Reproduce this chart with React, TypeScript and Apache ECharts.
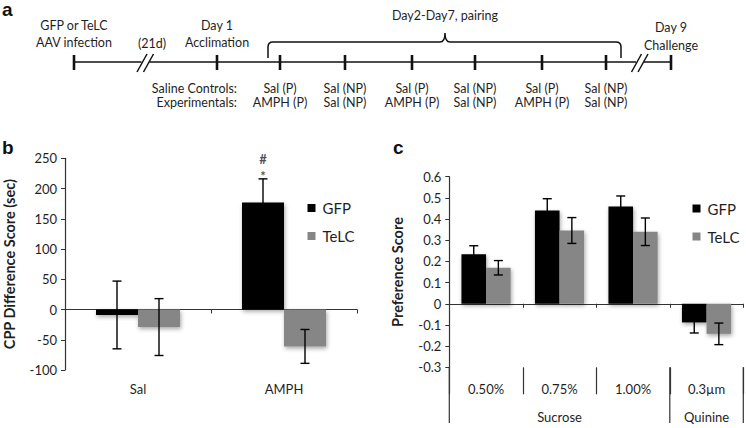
import React, { useEffect, useRef } from 'react';
import * as echarts from 'echarts';

// ---------- data ----------
const seriesNames = ['GFP', 'TeLC'];

// panel b
const cppCategories = ['Sal', 'AMPH'];
const cppGFP = [-9, 177];
const cppGFPErr = [56, 39];
const cppTeLC = [-29, -61];
const cppTeLCErr = [47, 28];
const cppAxis = { min: -100, max: 250, interval: 50 };
const cppAnnotationCategory = 1;
const cppAnnotationMarks = ['*', '#'];

// panel c
const prefCategories = ['0.50%', '0.75%', '1.00%', '0.3µm'];
const prefGroups = ['', 'Sucrose', '', 'Quinine'];
const prefGFP = [0.234, 0.44, 0.459, -0.088];
const prefGFPErr = [0.04, 0.056, 0.05, 0.05];
const prefTeLC = [0.17, 0.346, 0.34, -0.142];
const prefTeLCErr = [0.034, 0.061, 0.065, 0.051];
const prefAxis = { min: -0.3, max: 0.6, interval: 0.1 };

// panel a (timeline texts)
const timelineEventLabels = ['GFP or TeLC\nAAV infection', 'Day 1\nAcclimation', '', '', '', '', '', '', 'Day 9\nChallenge'];
const breakLabel = '(21d)';
const pairingLabel = 'Day2-Day7, pairing';
const rowLabels = ['Saline Controls:', 'Experimentals:'];
const salineRow = ['Sal (P)', 'Sal (NP)', 'Sal (P)', 'Sal (NP)', 'Sal (P)', 'Sal (NP)'];
const experimentalRow = ['AMPH (P)', 'Sal (NP)', 'AMPH (P)', 'Sal (NP)', 'AMPH (P)', 'Sal (NP)'];
const panelLetters = ['a', 'b', 'c'];

// ---------- layout / style ----------
const FONT = 'Lato';
const TXT = '#1f1f1f';
const LINE = '#333';
const GRAY = '#868686';
const gridB = { left: 65, top: 158.3, width: 292, height: 211.7 };
const gridC = { left: 449.3, top: 176.7, width: 294, height: 190.6 };
const barWB = 42;
const barWC = 24.6;
const tickX = [74, 217, 280, 345, 412, 475, 542, 606, 671];
const eventLabelY = [34, 34, 0, 0, 0, 0, 0, 0, 36.5];
const breakX = [145.5, 640];
const lineY = 62;
const annotationDistances = [0, 14];
const annotationShiftY = [3, 0];

echarts.graphic.registerShape(
  'brace',
  echarts.graphic.extendPath(
    'M268,58 L268,47 Q268,42 273,42 L440,42 Q445,42 445,33 Q445,42 450,42 L616,42 Q621,42 621,47 L621,58',
    {}
  )
);

function errorSeries(data: number[], err: number[], xi: number, yi: number, offset: number, cap: number) {
  return {
    type: 'custom',
    xAxisIndex: xi,
    yAxisIndex: yi,
    z: 5,
    silent: true,
    encode: { x: 0, y: [1, 2] },
    data: data.map((v, i) => [i, v - err[i], v + err[i]]),
    renderItem: (params: any, api: any) => {
      const x = api.value(0);
      const hi = api.coord([x, api.value(2)]);
      const lo = api.coord([x, api.value(1)]);
      const cx = hi[0] + offset;
      const st = { stroke: '#000', lineWidth: 1.4 };
      return {
        type: 'group',
        children: [
          { type: 'line', shape: { x1: cx, y1: hi[1], x2: cx, y2: lo[1] }, style: st },
          { type: 'line', shape: { x1: cx - cap, y1: hi[1], x2: cx + cap, y2: hi[1] }, style: st },
          { type: 'line', shape: { x1: cx - cap, y1: lo[1], x2: cx + cap, y2: lo[1] }, style: st },
        ],
      };
    },
  };
}

function buildTimeline(): any[] {
  const g: any[] = [];
  const st = { stroke: '#111', lineWidth: 1.5 };
  const segs = [
    [tickX[0], breakX[0] - 4],
    [breakX[0] + 4, breakX[1] - 4],
    [breakX[1] + 4, tickX[tickX.length - 1]],
  ];
  segs.forEach(([a, b]) => g.push({ type: 'line', shape: { x1: a, y1: lineY, x2: b, y2: lineY }, style: st }));
  breakX.forEach((c) => {
    g.push({ type: 'line', shape: { x1: c - 8.5, y1: 72, x2: c + 1.5, y2: 54 }, style: st });
    g.push({ type: 'line', shape: { x1: c - 2, y1: 72, x2: c + 8, y2: 54 }, style: st });
  });
  tickX.forEach((x) => g.push({ type: 'line', shape: { x1: x, y1: 55, x2: x, y2: 70 }, style: { stroke: '#111', lineWidth: 2.6 } }));
  g.push({ type: 'brace', style: { stroke: '#111', fill: 'none', lineWidth: 1.5 } });
  const ts = (text: string, x: number, y: number, align = 'center') => ({
    type: 'text',
    x,
    y,
    style: { text, fontSize: 12.5, fontFamily: FONT, fill: TXT, align, verticalAlign: 'middle', lineHeight: 17.5 },
  });
  timelineEventLabels.forEach((t, i) => {
    if (t) g.push(ts(t, tickX[i], eventLabelY[i]));
  });
  g.push(ts(breakLabel, 152, 43));
  g.push(ts(pairingLabel, 445, 15));
  g.push(ts(rowLabels[0], 237, 88, 'right'));
  g.push(ts(rowLabels[1], 237, 102, 'right'));
  salineRow.forEach((t, i) => g.push(ts(t, tickX[i + 2], 88)));
  experimentalRow.forEach((t, i) => g.push(ts(t, tickX[i + 2], 102)));
  const lp = [[2, 9], [2, 147], [393, 147]];
  panelLetters.forEach((l, i) =>
    g.push({
      type: 'text',
      x: lp[i][0],
      y: lp[i][1],
      style: { text: l, fontSize: 19, fontWeight: 'bold', fontFamily: 'Liberation Sans', fill: '#111', verticalAlign: 'middle' },
    })
  );
  const bottom = gridC.top + gridC.height;
  [0, 3, 4].forEach((i) => {
    const x = gridC.left + (gridC.width * i) / prefCategories.length;
    g.push({ type: 'line', shape: { x1: x, y1: bottom, x2: x, y2: 423 }, style: { stroke: LINE, lineWidth: 1.2 } });
  });
  return g;
}

const axisLbl = { fontSize: 13, fontFamily: FONT, color: TXT };
const shadow = { shadowBlur: 4, shadowColor: 'rgba(0,0,0,0.35)', shadowOffsetX: 1, shadowOffsetY: 2 };

function legendAt(left: number, top: number) {
  return {
    data: seriesNames,
    orient: 'vertical',
    left,
    top,
    padding: 0,
    icon: 'rect',
    itemWidth: 8,
    itemHeight: 8,
    itemGap: 13,
    selectedMode: false,
    textStyle: { fontSize: 15, fontFamily: FONT, color: TXT, padding: [0, 0, 0, 2] },
  };
}

function buildOption(): any {
  const annY = cppGFP[cppAnnotationCategory] + cppGFPErr[cppAnnotationCategory];
  return {
    animation: false,
    backgroundColor: '#fff',
    grid: [
      { ...gridB, containLabel: false },
      { ...gridC, containLabel: false },
    ],
    legend: [legendAt(307.5, 200.5), legendAt(692.5, 201)],
    xAxis: [
      {
        gridIndex: 0,
        type: 'category',
        data: cppCategories,
        axisLine: { onZero: true, lineStyle: { color: LINE, width: 1.2 } },
        axisTick: { show: true, length: 4, interval: 0, lineStyle: { color: LINE } },
        axisLabel: { show: false },
      },
      {
        gridIndex: 0,
        type: 'category',
        data: cppCategories,
        position: 'bottom',
        axisLine: { show: false, onZero: false },
        axisTick: { show: false },
        axisLabel: { ...axisLbl, margin: 12 },
      },
      {
        gridIndex: 1,
        type: 'category',
        data: prefCategories,
        axisLine: { onZero: true, lineStyle: { color: LINE, width: 1.2 } },
        axisTick: { show: true, length: 4, interval: 0, lineStyle: { color: LINE } },
        axisLabel: { show: false },
      },
      {
        gridIndex: 1,
        type: 'category',
        data: prefCategories,
        position: 'bottom',
        axisLine: { show: false, onZero: false },
        axisTick: { show: true, length: 27, interval: 0, lineStyle: { color: LINE, width: 1.2 } },
        axisLabel: { ...axisLbl, margin: 15, interval: 0 },
      },
      {
        gridIndex: 1,
        type: 'category',
        data: prefGroups,
        position: 'bottom',
        axisLine: { show: false, onZero: false },
        axisTick: { show: false },
        axisLabel: { ...axisLbl, margin: 43, interval: 0 },
      },
    ],
    yAxis: [
      {
        gridIndex: 0,
        type: 'value',
        min: cppAxis.min,
        max: cppAxis.max,
        interval: cppAxis.interval,
        axisLine: { show: true, lineStyle: { color: LINE, width: 1.2 } },
        axisTick: { show: true, length: 4, lineStyle: { color: LINE } },
        splitLine: { show: false },
        axisLabel: { ...axisLbl, margin: 8 },
        name: 'CPP Difference Score (sec)',
        nameLocation: 'middle',
        nameRotate: 90,
        nameGap: 48,
        nameTextStyle: { fontSize: 14.5, fontWeight: 'bold', fontFamily: FONT, color: TXT },
      },
      {
        gridIndex: 1,
        type: 'value',
        min: prefAxis.min,
        max: prefAxis.max,
        interval: prefAxis.interval,
        axisLine: { show: true, lineStyle: { color: LINE, width: 1.2 } },
        axisTick: { show: true, length: 4, lineStyle: { color: LINE } },
        splitLine: { show: false },
        axisLabel: { ...axisLbl, margin: 8, formatter: (v: number) => String(parseFloat(v.toFixed(1))) },
        name: 'Preference Score',
        nameLocation: 'middle',
        nameRotate: 90,
        nameGap: 44,
        nameTextStyle: { fontSize: 14.5, fontWeight: 'bold', fontFamily: FONT, color: TXT },
      },
    ],
    series: [
      {
        name: seriesNames[0],
        type: 'bar',
        xAxisIndex: 0,
        yAxisIndex: 0,
        data: cppGFP,
        barWidth: barWB,
        barGap: '0%',
        itemStyle: { color: '#000', ...shadow },
      },
      {
        name: seriesNames[1],
        type: 'bar',
        xAxisIndex: 0,
        yAxisIndex: 0,
        data: cppTeLC,
        barWidth: barWB,
        barGap: '0%',
        itemStyle: { color: GRAY, ...shadow },
      },
      errorSeries(cppGFP, cppGFPErr, 0, 0, -barWB / 2, 4.5),
      errorSeries(cppTeLC, cppTeLCErr, 0, 0, barWB / 2, 4.5),
      {
        type: 'scatter',
        xAxisIndex: 0,
        yAxisIndex: 0,
        symbolSize: 0,
        silent: true,
        z: 6,
        data: cppAnnotationMarks.map((m, i) => ({
          value: [cppAnnotationCategory, annY],
          label: {
            show: true,
            position: 'top',
            distance: annotationDistances[i],
            offset: [-barWB / 2, annotationShiftY[i]],
            formatter: m,
            fontSize: 13,
            lineHeight: 12,
            fontWeight: 'bold',
            fontFamily: FONT,
            color: TXT,
          },
        })),
      },
      {
        name: seriesNames[0],
        type: 'bar',
        xAxisIndex: 2,
        yAxisIndex: 1,
        data: prefGFP,
        barWidth: barWC,
        barGap: '0%',
        itemStyle: { color: '#000', ...shadow },
      },
      {
        name: seriesNames[1],
        type: 'bar',
        xAxisIndex: 2,
        yAxisIndex: 1,
        data: prefTeLC,
        barWidth: barWC,
        barGap: '0%',
        itemStyle: { color: GRAY, ...shadow },
      },
      errorSeries(prefGFP, prefGFPErr, 2, 1, -barWC / 2, 4.5),
      errorSeries(prefTeLC, prefTeLCErr, 2, 1, barWC / 2, 4.5),
    ],
    graphic: buildTimeline(),
  };
}

export default function App() {
  const ref = useRef<HTMLDivElement>(null);
  useEffect(() => {
    document.body.style.margin = '0';
    const chart = echarts.init(ref.current!, null, { renderer: 'svg' });
    chart.setOption(buildOption());
    return () => chart.dispose();
  }, []);
  return <div ref={ref} style={{ width: 746, height: 428 }} />;
}
